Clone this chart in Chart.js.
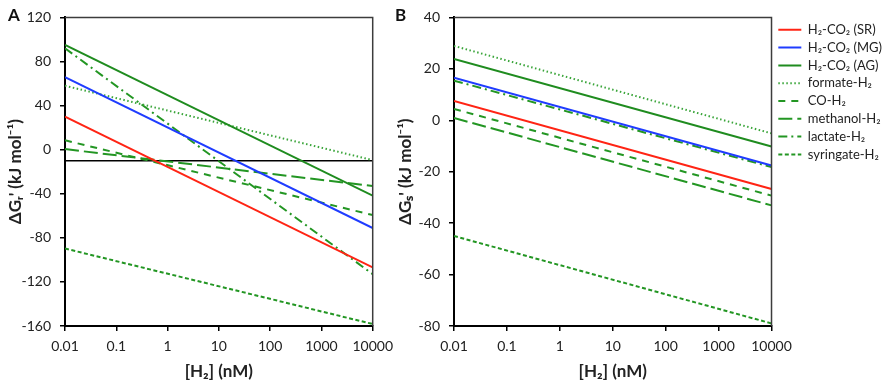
<!DOCTYPE html>
<html>
<head>
<meta charset="utf-8">
<script src="https://cdn.jsdelivr.net/npm/chart.js@4.4.1/dist/chart.umd.min.js"></script>
<style>
    html, body { margin: 0; padding: 0; background: #fff; }
    #wrap { position: relative; width: 892px; height: 390px; overflow: hidden; }
    #chartA { position: absolute; left: 0; top: 0; }
    #chartB { position: absolute; left: 380px; top: 0; }
    .panel-label { position: absolute; top: 4px; font: bold 17px Lato, sans-serif; color: #111; }
</style>
</head>
<body>
<div id="wrap">
    <canvas id="chartB" width="512" height="390"></canvas>
    <canvas id="chartA" width="400" height="390"></canvas>
    <div class="panel-label" style="left:8px">A</div>
    <div class="panel-label" style="left:395px">B</div>
</div>
<script>
// [H2] (nM) at the two ends of every line
const hConc = [0.01, 10000];
const xTickValues = [0.01, 0.1, 1, 10, 100, 1000, 10000];
const xTickLabels = ['0.01', '0.1', '1', '10', '100', '1000', '10000'];

const seriesNames = ['H₂-CO₂ (SR)', 'H₂-CO₂ (MG)', 'H₂-CO₂ (AG)', 'formate-H₂', 'CO-H₂', 'methanol-H₂', 'lactate-H₂', 'syringate-H₂'];

// panel A: ΔGr' (kJ/mol) at [H2] = 0.01 and 10000 nM
const srA = [30, -106.8];
const mgA = [65.7, -71.1];
const agA = [95, -41.8];
const formateA = [58, -9.5];
const coA = [8.5, -59.3];
const methanolA = [0.5, -33];
const lactateA = [92, -113];
const syringateA = [-89.7, -158.2];
const thresholdA = [-10, -10];

// panel B: ΔGs' (kJ/mol)
const srB = [7.5, -26.7];
const mgB = [16.5, -17.6];
const agB = [23.8, -10.2];
const formateB = [28.9, -5.1];
const coB = [4.4, -29.3];
const methanolB = [0.9, -33.1];
const lactateB = [15.4, -18.2];
const syringateB = [-45, -79];

const lineStyles = [
    { color: '#ff2414', dash: [], width: 2 },
    { color: '#1f3cff', dash: [], width: 2 },
    { color: '#1f8c1f', dash: [], width: 2 },
    { color: '#3aa53a', dash: [1.5, 2.5], width: 2 },
    { color: '#239623', dash: [7, 6], width: 2 },
    { color: '#239623', dash: [14, 5], width: 2 },
    { color: '#239623', dash: [9, 4, 2, 4], width: 2 },
    { color: '#239623', dash: [4, 2.5], width: 2 }
];

const tickFont = { family: 'Lato, sans-serif', size: 14 };
const titleFont = { family: 'Lato, sans-serif', size: 17, weight: 'bold' };
const legendFont = { family: 'Lato, sans-serif', size: 13 };

function toPoints(values) {
    return hConc.map((x, i) => ({ x: x, y: values[i] }));
}

function buildDatasets(seriesList) {
    return seriesList.map((values, i) => ({
        label: seriesNames[i],
        data: toPoints(values),
        borderColor: lineStyles[i].color,
        backgroundColor: lineStyles[i].color,
        borderWidth: lineStyles[i].width,
        borderDash: lineStyles[i].dash,
        pointRadius: 0,
        tension: 0
    }));
}

function xAxis() {
    return {
        type: 'logarithmic',
        min: 0.01,
        max: 10000,
        afterBuildTicks: axis => { axis.ticks = xTickValues.map(v => ({ value: v })); },
        afterFit: axis => { axis.height = 64; },
        ticks: {
            callback: (v, i) => xTickLabels[i],
            font: tickFont, color: '#222', padding: 7,
            autoSkip: false, maxRotation: 0
        },
        grid: { drawOnChartArea: false, tickLength: 5, color: '#000', lineWidth: 1.5 },
        border: { color: '#000', width: 2 },
        title: { display: true, text: '[H₂] (nM)', font: titleFont, color: '#222', padding: { top: 4, bottom: 8 } }
    };
}

function yAxis(min, max, step, width, title, titlePad) {
    return {
        min: min,
        max: max,
        afterFit: axis => { axis.width = width; },
        ticks: { stepSize: step, font: tickFont, color: '#222', padding: 9 },
        grid: { drawOnChartArea: false, tickLength: 5, color: '#000', lineWidth: 1.5 },
        border: { color: '#000', width: 2 },
        title: { display: true, text: title, font: titleFont, color: '#222', padding: { top: titlePad, bottom: 0 } }
    };
}

// top and right edges of the plot box
const framePlugin = {
    id: 'frame',
    afterDatasetsDraw(chart) {
        const { ctx, chartArea: a } = chart;
        ctx.save();
        ctx.strokeStyle = '#3c3c3c';
        ctx.lineWidth = 1.5;
        ctx.beginPath();
        ctx.moveTo(a.left, a.top);
        ctx.lineTo(a.right, a.top);
        ctx.lineTo(a.right, a.bottom);
        ctx.stroke();
        ctx.restore();
    }
};

// small gap between the plot box and the legend samples
const legendGapPlugin = {
    id: 'legendGap',
    afterLayout(chart) {
        if (chart.legend) {
            chart.legend.left += 2;
            chart.legend.right += 2;
        }
    }
};

let datasetsA = buildDatasets([srA, mgA, agA, formateA, coA, methanolA, lactateA, syringateA]);
datasetsA.push({
    label: 'threshold',
    data: toPoints(thresholdA),
    borderColor: '#000',
    borderWidth: 1.5,
    pointRadius: 0
});

new Chart(document.getElementById('chartA'), {
    type: 'line',
    data: { datasets: datasetsA },
    options: {
        responsive: false,
        animation: false,
        layout: { padding: { top: 10, right: 20, bottom: 0, left: 0 } },
        plugins: { legend: { display: false }, tooltip: { enabled: false } },
        scales: {
            x: xAxis(),
            y: yAxis(-160, 120, 40, 65, "ΔGᵣ' (kJ mol⁻¹)", 5)
        }
    },
    plugins: [framePlugin]
});

new Chart(document.getElementById('chartB'), {
    type: 'line',
    data: { datasets: buildDatasets([srB, mgB, agB, formateB, coB, methanolB, lactateB, syringateB]) },
    options: {
        responsive: false,
        animation: false,
        layout: { padding: { top: 10, right: 2, bottom: 0, left: 0 } },
        plugins: {
            tooltip: { enabled: false },
            legend: {
                position: 'right',
                align: 'start',
                maxWidth: 120,
                title: { display: true, text: '', font: { size: 1 }, padding: { top: 7.3, bottom: 0 } },
                labels: {
                    usePointStyle: true,
                    pointStyle: 'line',
                    pointStyleWidth: 23,
                    padding: 4.8,
                    color: '#222',
                    font: legendFont,
                    generateLabels: chart => Chart.defaults.plugins.legend.labels.generateLabels(chart).map(item => {
                        let ds = chart.data.datasets[item.datasetIndex];
                        item.lineDash = ds.borderDash;
                        item.lineWidth = ds.borderWidth;
                        item.strokeStyle = ds.borderColor;
                        return item;
                    })
                }
            }
        },
        scales: {
            x: xAxis(),
            y: yAxis(-80, 40, 20, 74, "ΔGₛ' (kJ mol⁻¹)", 15)
        }
    },
    plugins: [framePlugin, legendGapPlugin]
});
</script>
</body>
</html>
